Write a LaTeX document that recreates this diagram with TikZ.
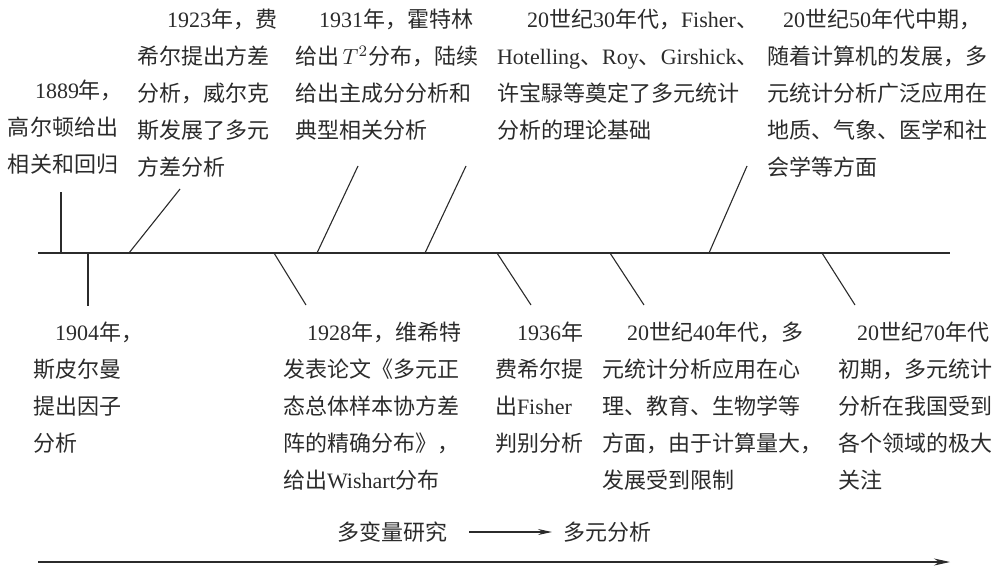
\documentclass[tikz,border=0pt]{standalone}
\usepackage{fontspec}
\setmainfont{Liberation Serif}
\newfontfamily\cjk{Noto Sans CJK SC}
\newcommand\zh[1]{{\cjk #1}}
\usetikzlibrary{arrows.meta}
\definecolor{ink}{HTML}{2B2B2B}
\begin{document}
\begin{tikzpicture}[x=0.5pt,y=-0.5pt,
  txt/.style={anchor=north west,inner sep=0pt,outer sep=0pt,align=left,text=ink,font=\fontsize{11pt}{18.5pt}\selectfont},
  mid/.style={inner sep=0pt,outer sep=0pt,text=ink,font=\fontsize{11pt}{18.5pt}\selectfont},
  tickline/.style={draw=ink,line width=0.55pt},
  axisline/.style={draw=ink,line width=0.6pt},
  arrowline/.style={draw=ink,line width=0.55pt,-{Stealth[length=8pt,width=3.5pt]}}
]
\useasboundingbox (0,0) rectangle (1000,567);

% text blocks above the axis
\node[txt,text width=55pt] (t1889) at (8,80) {\hspace*{13.5pt}1889\zh{年，}\\\zh{高尔顿给出}\\\zh{相关和回归}};
\node[txt,text width=66.5pt] (t1923) at (137,9) {\hspace*{15pt}1923\zh{年，费}\\\zh{希尔提出方差}\\\zh{分析，威尔克}\\\zh{斯发展了多元}\\\zh{方差分析}};
\node[txt,text width=89pt] (t1931) at (295,9) {\hspace*{12pt}1931\zh{年，霍特林}\\\zh{给出}\,$T^2$\zh{分布，陆续}\\\zh{给出主成分分析和}\\\zh{典型相关分析}};
\node[txt,text width=128pt] (t30) at (497,9) {\hspace*{15pt}20\zh{世纪}30\zh{年代，}Fisher\zh{、}\\Hotelling\zh{、}Roy\zh{、}Girshick\zh{、}\\\zh{许宝騄等奠定了多元统计}\\\zh{分析的理论基础}};
\node[txt,text width=112pt] (t50) at (767,9) {\hspace*{8pt}20\zh{世纪}50\zh{年代中期，}\\\zh{随着计算机的发展，多}\\\zh{元统计分析广泛应用在}\\\zh{地质、气象、医学和社}\\\zh{会学等方面}};

% text blocks below the axis
\node[txt,text width=44pt] (t1904) at (33,322) {\hspace*{11pt}1904\zh{年，}\\\zh{斯皮尔曼}\\\zh{提出因子}\\\zh{分析}};
\node[txt,text width=89pt] (t1928) at (283,322) {\hspace*{12pt}1928\zh{年，维希特}\\\zh{发表论文《多元正}\\\zh{态总体样本协方差}\\\zh{阵的精确分布》，}\\\zh{给出}Wishart\zh{分布}};
\node[txt,text width=44pt] (t1936) at (495,322) {\hspace*{11pt}1936\zh{年}\\\zh{费希尔提}\\\zh{出}Fisher\\\zh{判别分析}};
\node[txt,text width=100pt] (t40) at (602,322) {\hspace*{12.5pt}20\zh{世纪}40\zh{年代，多}\\\zh{元统计分析应用在心}\\\zh{理、教育、生物学等}\\\zh{方面，由于计算量大，}\\\zh{发展受到限制}};
\node[txt,text width=77pt] (t70) at (838,322) {\hspace*{9.5pt}20\zh{世纪}70\zh{年代}\\\zh{初期，多元统计}\\\zh{分析在我国受到}\\\zh{各个领域的极大}\\\zh{关注}};

% main axis
\coordinate (axL) at (38,253);
\coordinate (axR) at (950,253);
\draw[axisline] (axL) -- (axR);

% tick marks
\coordinate (a1889) at (61,253);  \coordinate (e1889) at (61,192);
\coordinate (a1904) at (88,253);  \coordinate (e1904) at (88,306);
\coordinate (a1923) at (129,253); \coordinate (e1923) at (180,189);
\coordinate (a1928) at (274,253); \coordinate (e1928) at (306,305);
\coordinate (a1931) at (317,253); \coordinate (e1931) at (358,166);
\coordinate (a30) at (425,253);   \coordinate (e30) at (466,166);
\coordinate (a1936) at (497,253); \coordinate (e1936) at (531,305);
\coordinate (a40) at (610,253);   \coordinate (e40) at (644,305);
\coordinate (a50) at (709,253);   \coordinate (e50) at (747,166);
\coordinate (a70) at (822,253);   \coordinate (e70) at (855,305);
\foreach \k in {1889,1904,1923,1928,1931,30,1936,40,50,70}
  \draw[tickline] (a\k) -- (e\k);

% middle caption
\node[mid,anchor=west] (mv) at (337,532) {\zh{多变量研究}};
\node[mid,anchor=west] (dy) at (563,532) {\zh{多元分析}};
\draw[arrowline,-{Stealth[length=7pt,width=3pt]},shorten <=11pt,shorten >=5.5pt] (mv.east) -- (dy.west);

% bottom time arrow
\coordinate (bL) at (38,562);
\coordinate (bR) at (950,562);
\draw[arrowline] (bL) -- (bR);
\end{tikzpicture}
\end{document}
